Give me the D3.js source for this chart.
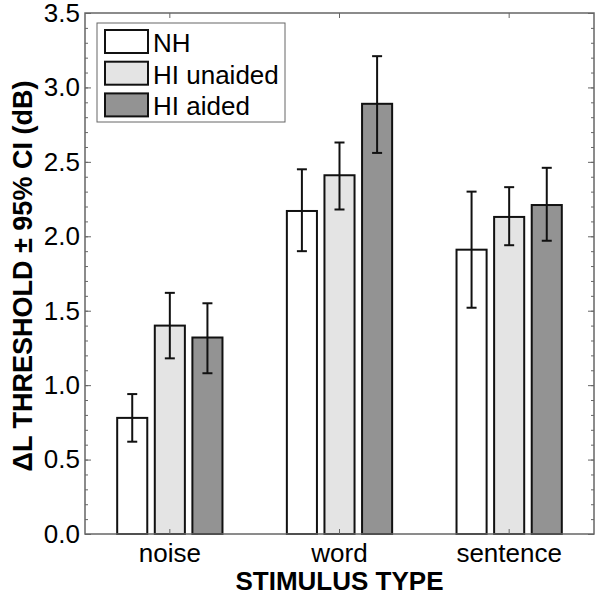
<!DOCTYPE html>
<html><head><meta charset="utf-8">
<script src="https://cdn.jsdelivr.net/npm/d3@7"></script>
<style>body{margin:0;background:#fff}svg{display:block}text{font-family:"Liberation Sans",Arial,sans-serif}</style>
</head><body><svg id="c" width="600" height="596"></svg>
<script>
const categories = ["noise", "word", "sentence"];
const series = ["NH", "HI unaided", "HI aided"];
const nhMean = [0.78, 2.17, 1.91];
const nhLow = [0.62, 1.90, 1.52];
const nhHigh = [0.94, 2.45, 2.30];
const unaidedMean = [1.40, 2.41, 2.13];
const unaidedLow = [1.18, 2.18, 1.94];
const unaidedHigh = [1.62, 2.63, 2.33];
const aidedMean = [1.32, 2.89, 2.21];
const aidedLow = [1.08, 2.56, 1.97];
const aidedHigh = [1.55, 3.21, 2.46];
const yTicks = [0, 0.5, 1.0, 1.5, 2.0, 2.5, 3.0, 3.5];
const colors = ["#ffffff", "#e4e4e4", "#939393"];

const means = [nhMean, unaidedMean, aidedMean];
const lows = [nhLow, unaidedLow, aidedLow];
const highs = [nhHigh, unaidedHigh, aidedHigh];

const L = 85, R = 594, T = 13, B = 534;
const svg = d3.select("#c");
const x = d3.scaleBand().domain(categories).range([L, R]).padding(0);
const y = d3.scaleLinear().domain([0, 3.5]).range([B, T]);
const groupW = 112.8;
const x1 = d3.scaleBand().domain(series).range([0, groupW]).paddingInner(0.2).paddingOuter(0.1);
const cx = c => x(c) + x.bandwidth() / 2;

const data = [];
categories.forEach((c, ci) => series.forEach((s, si) => data.push({
  c, s, si, v: means[si][ci], lo: lows[si][ci], hi: highs[si][ci]
})));

// bars
const g = svg.append("g");
g.selectAll("rect.bar").data(data).enter().append("rect")
  .attr("x", d => cx(d.c) - groupW / 2 + x1(d.s))
  .attr("y", d => y(d.v))
  .attr("width", x1.bandwidth())
  .attr("height", d => y(0) - y(d.v))
  .attr("fill", d => colors[d.si])
  .attr("stroke", "#111").attr("stroke-width", 2);

// error bars
const bx = d => cx(d.c) - groupW / 2 + x1(d.s) + x1.bandwidth() / 2;
const eb = g.selectAll("g.eb").data(data).enter().append("g").attr("stroke", "#111").attr("stroke-width", 2);
eb.append("line").attr("x1", bx).attr("x2", bx).attr("y1", d => y(d.lo)).attr("y2", d => y(d.hi));
eb.append("line").attr("x1", d => bx(d) - 5).attr("x2", d => bx(d) + 5).attr("y1", d => y(d.hi)).attr("y2", d => y(d.hi));
eb.append("line").attr("x1", d => bx(d) - 5).attr("x2", d => bx(d) + 5).attr("y1", d => y(d.lo)).attr("y2", d => y(d.lo));

// axes
const axisColor = "#666";
const minor = d3.range(0, 3.5001, 0.1).map(v => +v.toFixed(1));
function styleAxis(sel) {
  sel.select(".domain").remove();
  sel.selectAll(".tick line").attr("stroke", axisColor).attr("stroke-width", 1);
  sel.selectAll("text").attr("fill", "#000").style("font-size", "26px");
}
svg.append("g").attr("transform", `translate(${L},0)`)
  .call(d3.axisRight(y).tickValues(minor).tickSize(3).tickFormat(""))
  .call(styleAxis);
svg.append("g").attr("transform", `translate(${L},0)`)
  .call(d3.axisRight(y).tickValues(yTicks).tickSize(6).tickFormat(""))
  .call(styleAxis);
svg.append("g").attr("transform", `translate(${L},0)`)
  .call(d3.axisLeft(y).tickValues(yTicks).tickSize(0).tickPadding(5).tickFormat(d3.format(".1f")))
  .call(styleAxis);
svg.append("g").attr("transform", `translate(${R},0)`)
  .call(d3.axisLeft(y).tickValues(minor).tickSize(3).tickFormat(""))
  .call(styleAxis);
svg.append("g").attr("transform", `translate(${R},0)`)
  .call(d3.axisLeft(y).tickValues(yTicks).tickSize(6).tickFormat(""))
  .call(styleAxis);
svg.append("g").attr("transform", `translate(0,${B})`)
  .call(d3.axisTop(x).tickSize(5).tickFormat(""))
  .call(styleAxis);
svg.append("g").attr("transform", `translate(0,${B})`)
  .call(d3.axisBottom(x).tickSize(0).tickPadding(10))
  .call(styleAxis);
svg.append("g").attr("transform", `translate(0,${T})`)
  .call(d3.axisBottom(x).tickSize(5).tickFormat(""))
  .call(styleAxis);
svg.append("rect").attr("x", L).attr("y", T).attr("width", R - L).attr("height", B - T)
  .attr("fill", "none").attr("stroke", axisColor).attr("stroke-width", 1.5);

// axis titles
svg.append("text").attr("x", (L + R) / 2).attr("y", 590).attr("text-anchor", "middle")
  .style("font-size", "26px").style("font-weight", "bold").text("STIMULUS TYPE");
svg.append("text").attr("transform", "translate(32,276) rotate(-90)").attr("text-anchor", "middle")
  .style("font-size", "27px").style("font-weight", "bold").text("\u0394L THRESHOLD \u00b1 95% CI (dB)");

// legend
const lg = svg.append("g");
lg.append("rect").attr("x", 97).attr("y", 23).attr("width", 188).attr("height", 99)
  .attr("fill", "#fff").attr("stroke", axisColor).attr("stroke-width", 1);
series.forEach((s, i) => {
  lg.append("rect").attr("x", 105).attr("y", 30 + i * 31.7).attr("width", 43).attr("height", 23)
    .attr("fill", colors[i]).attr("stroke", "#111").attr("stroke-width", 2);
  lg.append("text").attr("x", 153).attr("y", 52 + i * 31.7).style("font-size", "26px").text(s);
});
</script></body></html>
